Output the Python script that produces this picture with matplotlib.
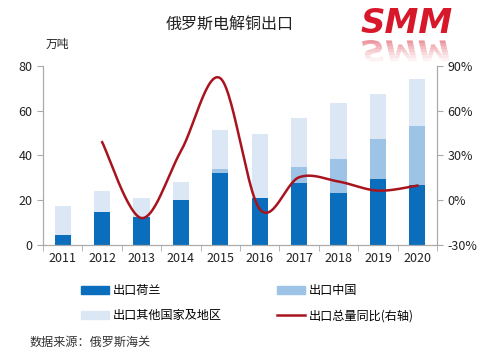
import numpy as np
import matplotlib
matplotlib.use("Agg")
import matplotlib.pyplot as plt
from matplotlib.patches import Patch, PathPatch, Rectangle
from matplotlib.lines import Line2D
from matplotlib.textpath import TextPath
from matplotlib.font_manager import FontProperties
from matplotlib.transforms import Affine2D, IdentityTransform

plt.rcParams['font.family'] = ['Noto Sans CJK SC', 'DejaVu Sans']

years = ['2011', '2012', '2013', '2014', '2015', '2016', '2017', '2018', '2019', '2020']
netherlands = [4.5, 14.9, 12.6, 19.9, 32.0, 20.8, 27.9, 23.0, 29.7, 26.6]
china = [0, 0, 0, 0, 2.0, 0, 7.1, 15.5, 17.7, 26.4]
others = [13.0, 9.3, 8.4, 8.3, 17.4, 28.7, 21.8, 25.0, 20.1, 21.2]
yoy_years = ['2012', '2013', '2014', '2015', '2016', '2017', '2018', '2019', '2020']
yoy = [38.9, -12.0, 33.0, 81.8, -6.0, 15.4, 12.5, 6.4, 9.8]

c_nl = '#0A6EBD'
c_cn = '#9DC3E6'
c_ot = '#DCE7F5'
c_line = '#A8141E'
c_logo = '#D7182A'


def catmull_rom(xs, ys, n=30):
    # smooth line like excel's "smoothed line"
    px = np.concatenate([[xs[0]], xs, [xs[-1]]])
    py = np.concatenate([[ys[0]], ys, [ys[-1]]])
    outx, outy = [], []
    t = np.linspace(0, 1, n)
    for i in range(1, len(px) - 2):
        p0, p1, p2, p3 = [np.array([px[j], py[j]]) for j in range(i - 1, i + 3)]
        c1 = p1 + (p2 - p0) / 6
        c2 = p2 - (p3 - p1) / 6
        b = ((1 - t) ** 3)[:, None] * p1 + (3 * (1 - t) ** 2 * t)[:, None] * c1 \
            + (3 * (1 - t) * t ** 2)[:, None] * c2 + (t ** 3)[:, None] * p2
        outx.extend(b[:, 0]); outy.extend(b[:, 1])
    return np.array(outx), np.array(outy)


fig = plt.figure(figsize=(4.84, 3.57), dpi=100)
ax = fig.add_axes([0.089, 0.314, 0.814, 0.501])
ax2 = ax.twinx()

x = np.arange(len(years))
w = 0.41
nl = np.array(netherlands); cn = np.array(china); ot = np.array(others)
ax.bar(x, nl, w, color=c_nl, zorder=2)
ax.bar(x, cn, w, bottom=nl, color=c_cn, zorder=2)
ax.bar(x, ot, w, bottom=nl + cn, color=c_ot, zorder=2)

lx = np.array([years.index(y) for y in yoy_years], dtype=float)
sx, sy = catmull_rom(lx, np.array(yoy))
ax2.plot(sx, sy, color=c_line, lw=1.8, zorder=3)

ax.set_xlim(-0.5, len(years) - 0.5)
ax.set_ylim(0, 80)
ax.set_yticks([0, 20, 40, 60, 80])
ax2.set_ylim(-30, 90)
ax2.set_yticks([-30, 0, 30, 60, 90])
ax2.set_yticklabels(['-30%', '0%', '30%', '60%', '90%'])
ax.set_xticks(x)
ax.set_xticklabels(years)
ax.set_xticks(np.arange(-0.5, len(years), 1), minor=True)
ax.tick_params(axis='x', which='major', length=0, labelsize=9, pad=5, colors='#222222')
ax.tick_params(axis='x', which='minor', length=4, color='#AAAAAA', direction='out')
ax.tick_params(axis='y', length=4, color='#AAAAAA', labelsize=9, labelcolor='#222222')
ax2.tick_params(axis='y', length=4, color='#AAAAAA', labelsize=9, labelcolor='#222222')
for a in (ax, ax2):
    a.spines['top'].set_visible(False)
    for s in ('left', 'right', 'bottom'):
        a.spines[s].set_color('#AAAAAA')
        a.spines[s].set_linewidth(0.8)

fig.text(0.475, 0.93, '俄罗斯电解铜出口', ha='center', va='center', fontsize=11.5, color='#222222')
fig.text(0.095, 0.875, '万吨', ha='left', va='center', fontsize=8.5, color='#222222')

# legend fills column by column, so order gives rows: 荷兰/中国, 其他/同比
handles = [Patch(color=c_nl), Patch(color=c_ot), Patch(color=c_cn),
           Line2D([0], [0], color=c_line, lw=1.8)]
labels = ['出口荷兰', '出口其他国家及地区', '出口中国', '出口总量同比(右轴)']
fig.legend(handles, labels, ncol=2, loc='upper left', bbox_to_anchor=(0.168, 0.204),
           frameon=False, fontsize=8.7, handlelength=2.3, handleheight=0.55,
           handletextpad=0.3, columnspacing=4.6, labelspacing=1.0,
           borderaxespad=0, borderpad=0)

fig.text(0.06, 0.04, '数据来源：俄罗斯海关', ha='left', va='center', fontsize=8.7,
         color='#333333')

# SMM logo with faded reflection
fig.text(0.745, 0.934, 'SMM', ha='left', va='center', fontsize=24.5, color=c_logo,
         fontweight='heavy', style='oblique', family='DejaVu Sans')
fp = FontProperties(family='DejaVu Sans', weight='heavy', style='oblique')
tp = TextPath((0, 0), 'SMM', prop=fp, size=1)
ext = tp.get_extents()
refl = Affine2D().translate(-ext.x0, -ext.y0).scale(88 / ext.width, -22 / ext.height)
rpath = refl.transform_path(tp)
top = 357 - 40
for k in range(8):
    pp = PathPatch(rpath, transform=Affine2D().translate(362, top), color=c_logo,
                   alpha=0.45 * (1 - k / 8) ** 1.5, lw=0)
    fig.patches.append(pp)
    clip = Rectangle((340, top - (k + 1) * 3), 140, 3, transform=IdentityTransform())
    pp.set_clip_path(clip)

fig.savefig('out.png', dpi=100)
